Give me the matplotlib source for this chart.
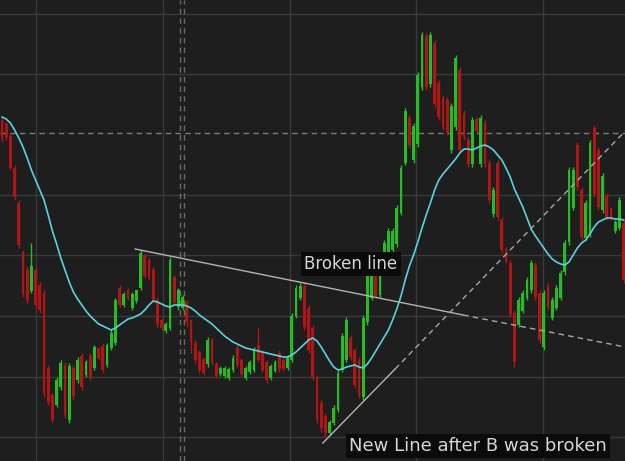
import numpy as np
import matplotlib
matplotlib.use("Agg")
import matplotlib.pyplot as plt

# price levels are read in chart rows (top of chart = 0), axis is inverted
highs = [118, 122, 134, 165, 200, 250, 267, 243, 267, 282, 290, 365, 393, 377, 360, 362, 363, 365, 357, 353,
         360, 353, 345, 347, 343, 343, 330, 298, 285, 292, 288, 292, 290, 250, 253, 258, 267, 297, 318, 322,
         257, 275, 288, 295, 300, 320, 340, 350, 357, 337, 338, 362, 366, 366, 367, 355, 345, 358, 366, 360,
         347, 328, 350, 360, 364, 360, 350, 358, 355, 313, 285, 283, 283, 305, 325, 375, 400, 413, 420, 405,
         370, 333, 317, 335, 348, 357, 315, 273, 270, 268, 265, 240, 228, 228, 205, 165, 108, 115, 123, 72,
         32, 33, 32, 40, 80, 95, 97, 103, 55, 67, 110, 137, 117, 117, 115, 120, 160, 187, 160, 217,
         247, 260, 310, 297, 290, 277, 260, 262, 290, 290, 283, 297, 285, 270, 240, 167, 167, 142, 187, 200,
         140, 125, 147, 173, 193, 207, 220, 197, 220]
lows = [142, 140, 170, 200, 248, 297, 303, 293, 308, 313, 397, 405, 422, 407, 390, 418, 423, 400, 383, 390,
        377, 380, 370, 360, 373, 367, 350, 345, 307, 307, 300, 310, 303, 290, 278, 280, 302, 327, 330, 333,
        330, 305, 310, 310, 327, 353, 363, 373, 375, 367, 365, 378, 376, 378, 380, 372, 367, 376, 380, 374,
        372, 362, 372, 383, 380, 372, 372, 371, 370, 362, 318, 300, 330, 353, 380, 423, 432, 437, 435, 425,
        412, 372, 362, 360, 388, 398, 400, 325, 300, 298, 297, 270, 260, 253, 247, 215, 165, 148, 163, 147,
        90, 90, 87, 107, 120, 130, 135, 153, 130, 153, 140, 167, 167, 133, 167, 167, 203, 217, 220, 253,
        263, 317, 367, 327, 313, 300, 293, 300, 343, 350, 310, 320, 310, 300, 275, 245, 210, 190, 240, 240,
        237, 197, 210, 213, 220, 220, 233, 230, 283]
opens = [120, 124, 136, 168, 203, 252, 270, 291, 270, 285, 293, 368, 395, 405, 387, 365, 420, 368, 380, 356,
         375, 356, 368, 348, 346, 365, 348, 343, 288, 305, 290, 308, 301, 288, 255, 260, 270, 300, 320, 331,
         328, 277, 307, 308, 302, 320, 343, 352, 359, 364, 340, 364, 374, 376, 378, 370, 348, 360, 378, 372,
         370, 345, 352, 362, 378, 371, 353, 360, 368, 360, 316, 298, 286, 308, 328, 378, 403, 416, 433, 423,
         410, 370, 360, 338, 350, 360, 397, 322, 298, 270, 295, 268, 257, 250, 244, 213, 163, 118, 160, 144,
         87, 36, 84, 43, 83, 98, 100, 150, 127, 70, 113, 140, 164, 119, 164, 123, 163, 214, 163, 220,
         249, 263, 313, 325, 311, 298, 290, 265, 293, 347, 286, 318, 308, 298, 272, 242, 208, 145, 190, 238,
         234, 128, 150, 210, 196, 208, 231, 228, 223]
closes = [138, 137, 168, 197, 245, 294, 300, 266, 305, 310, 393, 402, 420, 380, 363, 415, 366, 396, 360, 387,
          362, 377, 347, 358, 370, 345, 333, 300, 305, 294, 298, 294, 290, 253, 276, 278, 300, 324, 328, 324,
          260, 302, 290, 297, 322, 342, 360, 370, 373, 340, 362, 376, 368, 368, 369, 358, 365, 374, 368, 362,
          350, 360, 370, 380, 366, 362, 369, 369, 358, 316, 288, 286, 327, 350, 377, 420, 428, 433, 422, 408,
          373, 336, 320, 357, 385, 395, 318, 276, 273, 296, 268, 243, 231, 231, 208, 168, 111, 145, 126, 75,
          35, 87, 35, 104, 117, 127, 132, 106, 58, 150, 137, 164, 120, 131, 118, 164, 200, 190, 217, 250,
          261, 314, 362, 300, 293, 280, 263, 297, 340, 293, 307, 300, 288, 273, 243, 170, 170, 187, 237, 203,
          143, 194, 207, 176, 217, 218, 222, 200, 280]
ma_line = [117, 119, 123, 130, 138, 147, 158, 170, 180, 190, 200, 215, 231, 244, 258, 270, 282, 292, 299, 305,
           311, 316, 320, 324, 326, 328, 330, 328, 325, 322, 319, 318, 316, 314, 310, 305, 301, 302, 304, 306,
           307, 305, 305, 305, 306, 308, 311, 315, 318, 321, 324, 328, 332, 336, 339, 342, 344, 346, 348, 349,
           350, 351, 352, 353, 354, 355, 356, 357, 357, 355, 352, 348, 344, 340, 338, 341, 347, 354, 361, 367,
           370, 369, 367, 366, 365, 367, 368, 364, 358, 351, 344, 337, 330, 320, 309, 296, 280, 266, 255, 242,
           228, 215, 203, 190, 180, 174, 169, 164, 159, 153, 149, 149, 150, 148, 146, 145, 147, 150, 155, 160,
           168, 177, 189, 198, 207, 218, 229, 236, 242, 248, 254, 259, 262, 264, 265, 262, 255, 248, 243, 240,
           234, 227, 222, 220, 218, 218, 219, 219, 220]

# trend lines: (bar index, level) - start, end of solid part, end of dashed part
broken_line = [(31.7, 249), (109.8, 315), (148.4, 347)]
new_line = [(76.4, 443), (93.6, 369), (148.4, 131)]

BG = '#1e1e1e'
GREEN = '#26bc26'
RED = '#b01616'
GRID = '#3a3a3a'

px_per_bar = 4.2
x0 = 2.0
def px(x):
    return (x - x0) / px_per_bar

fig = plt.figure(figsize=(6.25, 4.61), dpi=100, facecolor=BG)
ax = fig.add_axes([0, 0, 1, 1], facecolor=BG)
ax.set_xlim(px(0), px(625))
ax.set_ylim(461, 0)
ax.axis('off')

# grid
for gx in [36, 163, 290, 416, 543]:
    ax.axvline(px(gx), color=GRID, lw=1, zorder=0)
for gy in [14, 74, 195, 255, 316, 377, 437]:
    ax.axhline(gy, color=GRID, lw=1, zorder=0)

# crosshair
ax.axhline(133, color='#7c7c7c', lw=1, ls=(0, (4, 3)), zorder=1)
for cx in [180, 183.5]:
    ax.axvline(px(cx), color='#6a6a6a', lw=1, ls=(0, (4, 3)), zorder=1)

idx = np.arange(len(closes))
o = np.array(opens)
c = np.array(closes)
up = c < o
cols = np.where(up, GREEN, RED)
ax.vlines(idx, highs, lows, colors=cols, lw=1, zorder=2)
ax.bar(idx, np.abs(o - c), bottom=np.minimum(o, c), width=0.62, color=cols, lw=0, zorder=3)

ax.plot(idx, ma_line, color='#5ad2dc', lw=1.2, zorder=4)

# trend lines
bx = [p[0] for p in broken_line]
by = [p[1] for p in broken_line]
ax.plot(bx[:2], by[:2], color='#b4b4b4', lw=1, zorder=5)
ax.plot(bx[1:], by[1:], color='#a8a8a8', lw=1, ls=(0, (4, 3)), zorder=5)
nx = [p[0] for p in new_line]
ny = [p[1] for p in new_line]
ax.plot(nx[:2], ny[:2], color='#b4b4b4', lw=1, zorder=5)
ax.plot(nx[1:], ny[1:], color='#a8a8a8', lw=1, ls=(0, (4, 3)), zorder=5)

box = dict(boxstyle='square,pad=0.18', fc='#0b0b0b', ec='none')
ax.text(px(351), 264, 'Broken line', color='#d6d6d6', fontsize=12,
        ha='center', va='center', bbox=box, zorder=6)
ax.text(px(478), 446, 'New Line after B was broken', color='#d6d6d6', fontsize=13,
        ha='center', va='center', bbox=box, zorder=6)

fig.savefig('out.png', dpi=100, facecolor=BG)
